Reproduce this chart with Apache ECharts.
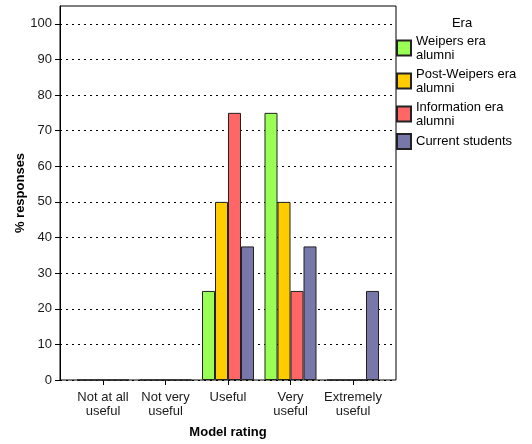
<!DOCTYPE html>
<html><head><meta charset="utf-8">
<script src="https://cdn.jsdelivr.net/npm/echarts@6/dist/echarts.min.js"></script>
<style>html,body{margin:0;padding:0;background:#fff}#c{width:532px;height:444px}</style>
</head><body><div id="c"></div>
<script>
const categories = ['Not at all\nuseful', 'Not very\nuseful', 'Useful', 'Very\nuseful', 'Extremely\nuseful'];
const seriesNames = ['Weipers era alumni', 'Post-Weipers era alumni', 'Information era alumni', 'Current students'];
const legendLabels = ['Weipers era\nalumni', 'Post-Weipers era\nalumni', 'Information era\nalumni', 'Current students'];
const weipers = [0, 0, 25, 75, 0];
const postWeipers = [0, 0, 50, 50, 0];
const information = [0, 0, 75, 25, 0];
const current = [0, 0, 37.5, 37.5, 25];
const yTicks = [0, 10, 20, 30, 40, 50, 60, 70, 80, 90, 100];
const colors = ['#99FF55', '#FFCC00', '#FF6666', '#7777AA'];
const values = [weipers, postWeipers, information, current];

const font = 'Liberation Sans, Arial, sans-serif';
const chart = echarts.init(document.getElementById('c'));
chart.setOption({
  animation: false,
  title: {
    text: 'Era', left: 457, top: 12, textAlign: 'center',
    textStyle: {fontFamily: font, fontSize: 13, fontWeight: 'normal', color: '#000'}
  },
  legend: {
    orient: 'vertical', left: 396, top: 34, padding: 0, itemWidth: 14, itemHeight: 15, itemGap: 5,
    icon: 'rect',
    data: seriesNames,
    formatter: function (n) { return legendLabels[seriesNames.indexOf(n)]; },
    textStyle: {fontFamily: font, fontSize: 13, color: '#000', lineHeight: 14}
  },
  grid: [
    {left: 60, top: 6, width: 336, height: 374, show: true, borderColor: '#000', borderWidth: 1, containLabel: false},
    {left: 71.75, top: 6, width: 312.5, height: 374, containLabel: false}
  ],
  xAxis: [
    {gridIndex: 0, type: 'value', min: 0, max: 1, show: false},
    {gridIndex: 1, type: 'category', data: categories,
      name: 'Model rating', nameLocation: 'middle', nameGap: 46, nameMoveOverlap: false,
      nameTextStyle: {fontFamily: font, fontSize: 13, fontWeight: 'bold', color: '#000'},
      axisLine: {show: false},
      axisTick: {show: true, alignWithLabel: true, length: 5, lineStyle: {color: '#000'}},
      axisLabel: {fontFamily: font, fontSize: 13, color: '#1a1a1a', margin: 10, lineHeight: 14, interval: 0},
      splitLine: {show: false}
    }
  ],
  yAxis: [
    {gridIndex: 0, type: 'value', min: 0, max: 105, interval: 5,
      name: '% responses', nameLocation: 'middle', nameGap: 33, nameMoveOverlap: false,
      nameTextStyle: {fontFamily: font, fontSize: 13, fontWeight: 'bold', color: '#000'},
      axisLine: {show: true, lineStyle: {color: '#000'}},
      axisTick: {show: true, length: 5, lineStyle: {color: '#000'}, customValues: yTicks},
      axisLabel: {fontFamily: font, fontSize: 13, color: '#1a1a1a', margin: 8, customValues: yTicks},
      splitLine: {show: true, interval: function (i, v) { return v % 10 === 0 && v > 0 && v <= 100; },
        lineStyle: {color: '#000', type: [2, 4], width: 1}}
    },
    {gridIndex: 1, type: 'value', min: 0, max: 105, show: false, splitLine: {show: false}}
  ],
  series: seriesNames.map(function (name, i) {
    return {
      name: name, type: 'bar', xAxisIndex: 1, yAxisIndex: 1,
      data: values[i], barWidth: 13, barGap: '0%',
      itemStyle: {color: colors[i], borderColor: '#222', borderWidth: 1}
    };
  })
});
</script></body></html>
